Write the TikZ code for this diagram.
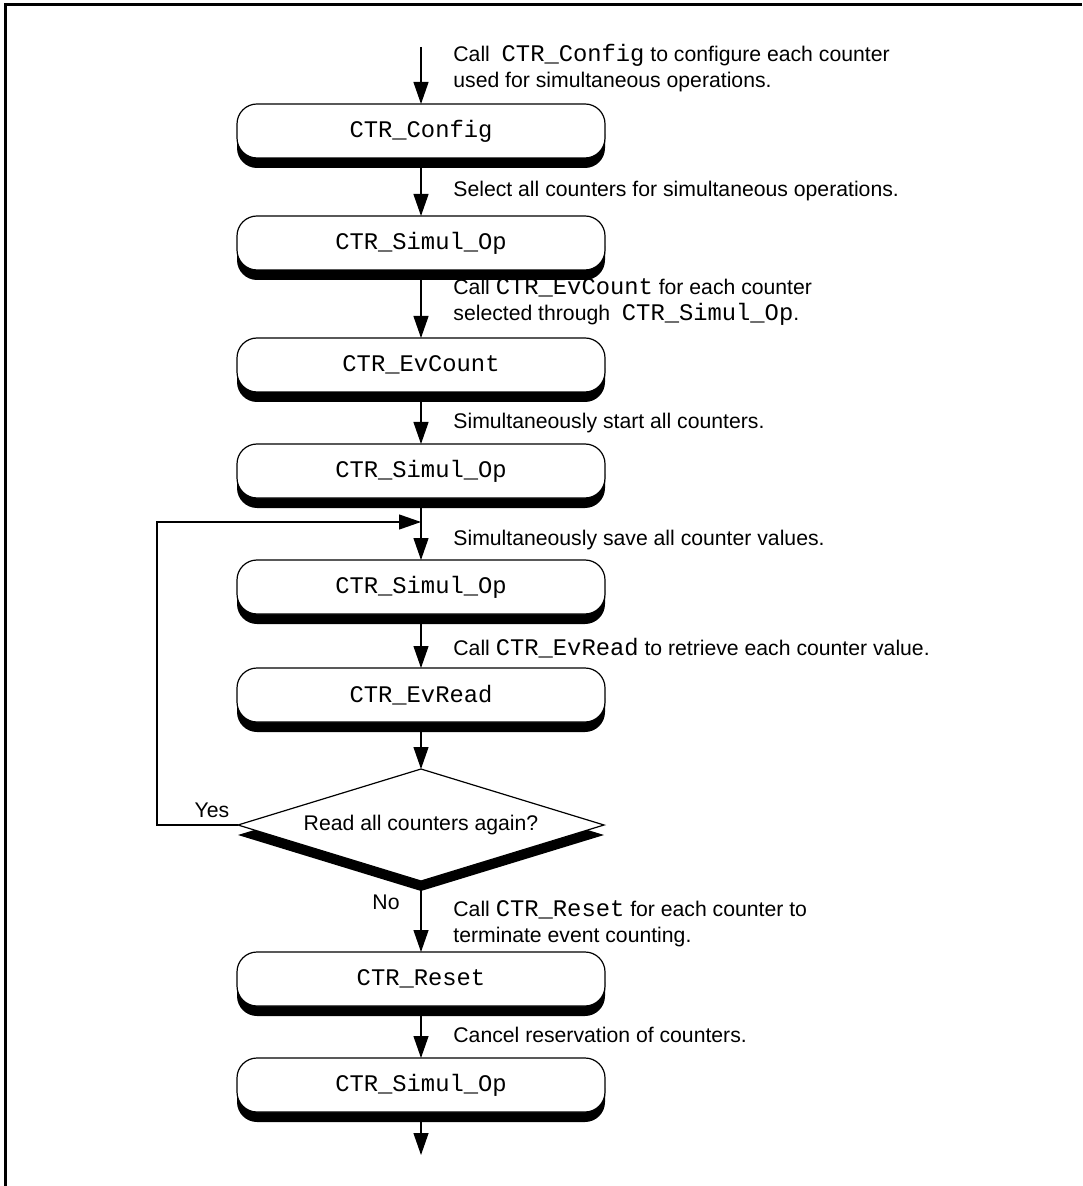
\documentclass[tikz,border=0pt]{standalone}
\usepackage{fontspec}
\setmainfont{Liberation Sans}
\setmonofont{Liberation Mono}
\usetikzlibrary{arrows.meta,shapes.geometric,shadows}
\newcommand\fn[1]{{\fontsize{11.9}{12.8}\ttfamily #1}}
\begin{document}
\begin{tikzpicture}[x=0.5pt,y=-0.5pt,
  flowbox/.style={draw, line width=0.6pt, rounded corners=10pt, fill=white,
    minimum width=184pt, minimum height=27pt, inner sep=0pt, outer sep=0pt,
    font=\fontsize{11.9}{14}\ttfamily,
    drop shadow={shadow xshift=0pt, shadow yshift=-5pt, fill=black, opacity=1}},
  decision/.style={diamond, draw, line width=0.6pt, fill=white, aspect=3.27,
    minimum width=183pt, minimum height=56pt, inner sep=0pt, outer sep=0pt,
    font=\fontsize{10.6}{12.8}\selectfont,
    drop shadow={shadow xshift=0pt, shadow yshift=-5pt, fill=black, opacity=1}},
  lbl/.style={anchor=west, align=left, inner sep=0pt, font=\fontsize{10.6}{12.8}\selectfont},
  yn/.style={inner sep=0pt, font=\fontsize{10.6}{12.8}\selectfont},
  flow/.style={draw, line width=0.6pt, -{Triangle[length=11pt,width=7.5pt]}},
  frameline/.style={line width=1.5pt}
]
\useasboundingbox (0,0) rectangle (1082,1186);
% frame (top and left edges only)
\coordinate (fa) at (1082,4.5);
\coordinate (fb) at (5.5,4.5);
\coordinate (fc) at (5.5,1186);
\draw[frameline] (fa) -- (fb) -- (fc);

% boxes
\node[flowbox] (b1) at (421,131) {CTR\_Config};
\node[flowbox] (b2) at (421,243) {CTR\_Simul\_Op};
\node[flowbox] (b3) at (421,365) {CTR\_EvCount};
\node[flowbox] (b4) at (421,471) {CTR\_Simul\_Op};
\node[flowbox] (b5) at (421,587) {CTR\_Simul\_Op};
\node[flowbox] (b6) at (421,695) {CTR\_EvRead};
\node[decision] (d) at (421,825) {Read all counters again?};
\node[flowbox] (b7) at (421,979) {CTR\_Reset};
\node[flowbox] (b8) at (421,1085) {CTR\_Simul\_Op};

% free ends
\coordinate (start) at (421,47);
\coordinate (finish) at (421,1155);
\coordinate (join) at (421,522);
\coordinate (lp1) at (157,825);
\coordinate (lp2) at (157,522);

% connectors
\draw[flow] (start) -- (b1.north);
\draw[flow] ([yshift=-5pt]b1.south) -- (b2.north);
\draw[flow] ([yshift=-5pt]b2.south) -- (b3.north);
\draw[flow] ([yshift=-5pt]b3.south) -- (b4.north);
\draw[flow] ([yshift=-5pt]b4.south) -- (b5.north);
\draw[flow] ([yshift=-5pt]b5.south) -- (b6.north);
\draw[flow] ([yshift=-5pt]b6.south) -- (d.north);
\draw[flow] ([yshift=-5pt]d.south) -- (b7.north);
\draw[flow] ([yshift=-5pt]b7.south) -- (b8.north);
\draw[flow] ([yshift=-5pt]b8.south) -- (finish);
\draw[flow] (d.west) -- (lp1) -- (lp2) -- (join);

% labels
\node[yn] (yes) at (212,810) {Yes};
\node[yn] (no) at (386,902) {No};

\node[lbl] (t1) at (453,68) {Call \ \fn{CTR\_Config} to configure each counter\\used for simultaneous operations.};
\node[lbl] (t2) at (453,191) {Select all counters for simultaneous operations.};
\node[lbl] (t3) at (453,302) {Call \fn{CTR\_EvCount} for each counter\\selected through \ \fn{CTR\_Simul\_Op}.};
\node[lbl] (t4) at (453,423) {Simultaneously start all counters.};
\node[lbl] (t5) at (453,540) {Simultaneously save all counter values.};
\node[lbl] (t6) at (453,648) {Call \fn{CTR\_EvRead} to retrieve each counter value.};
\node[lbl] (t7) at (453,924) {Call \fn{CTR\_Reset} for each counter to\\terminate event counting.};
\node[lbl] (t8) at (453,1035) {Cancel reservation of counters.};
\end{tikzpicture}
\end{document}
